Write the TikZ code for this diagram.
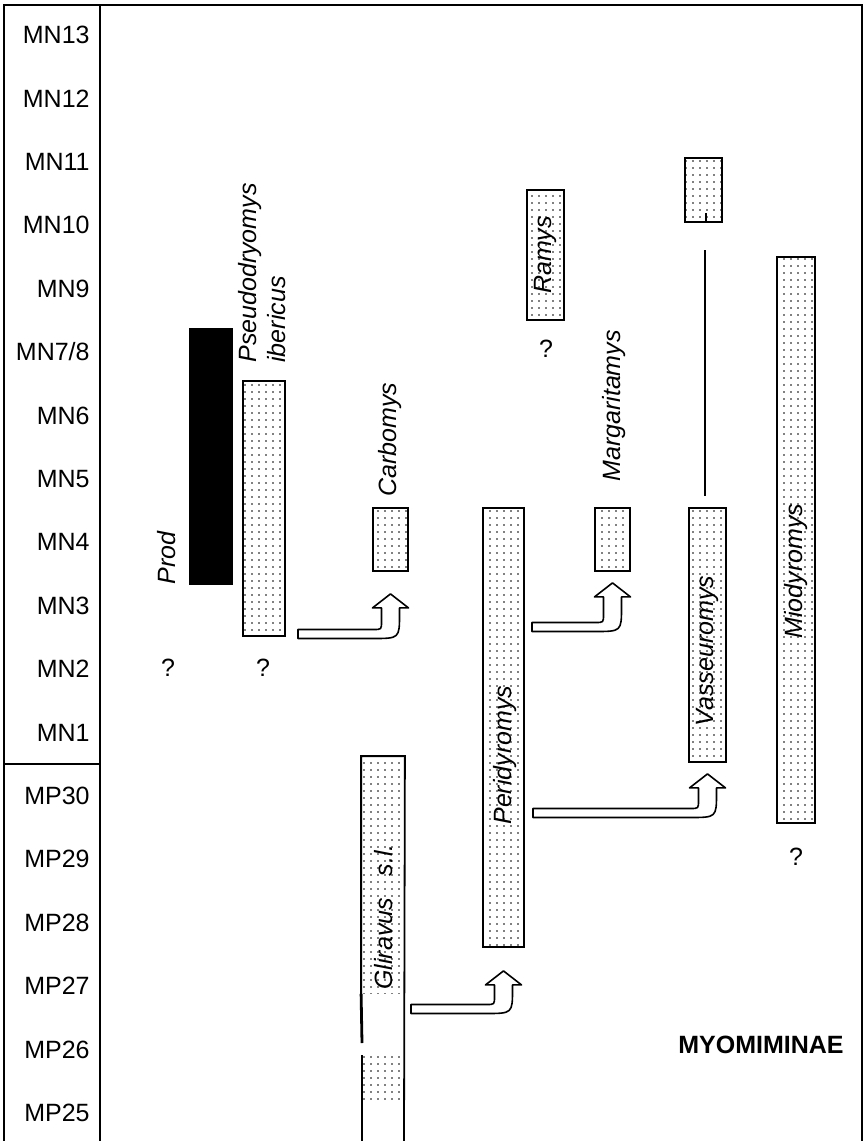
\documentclass[tikz,border=0pt]{standalone}
\usepackage{fontspec}
\setmainfont{Liberation Sans}
\usetikzlibrary{calc,fit,patterns.meta}

\newcommand\zfont{\fontsize{12.5}{14.5}\selectfont}

% hollow bent arrow from a start point (left end of shaft) to a tip
\newcommand\bentarrow[2]{%
  \draw[hollow] let \p1=(#1), \p2=(#2) in
    (\x1,\y1+2.25pt) -- (\x2-8.5pt,\y1+2.25pt)
    .. controls (\x2-4.5pt,\y1+2.25pt) .. (\x2-4.5pt,\y1+6.25pt)
    -- (\x2-4.5pt,\y2-7pt) -- (\x2-9pt,\y2-7pt) -- (\x2,\y2)
    -- (\x2+9pt,\y2-7pt) -- (\x2+4.5pt,\y2-7pt)
    -- (\x2+4.5pt,\y1+10pt)
    .. controls (\x2+4.5pt,\y1-2.25pt) .. (\x2-9pt,\y1-2.25pt)
    -- (\x1,\y1-2.25pt) -- cycle;}

\tikzset{
  frame/.style={line width=0.8pt},
  stipple/.style={pattern={Dots[distance=3.5pt,radius=0.4pt]}, pattern color=black},
  bar/.style={draw, line width=0.9pt, inner sep=0pt, stipple},
  solidbar/.style={fill=black, inner sep=0pt},
  taxon/.style={font=\zfont\itshape, rotate=90, inner sep=0pt},
  zone/.style={font=\zfont, anchor=east, inner sep=0pt},
  query/.style={font=\zfont, inner sep=0pt},
  hollow/.style={draw, line width=0.8pt, fill=white, line join=round},
}

\begin{document}
\begin{tikzpicture}[x=0.5pt,y=-0.5pt]
  \useasboundingbox (0,0) rectangle (863,1141);

  % frame and time scale
  \draw[frame] (4,1141) -- (4,5) -- (862,5) -- (862,1141);
  \draw[frame] (100,5) -- (100,1141);
  \draw[frame] (4,764) -- (100,764);
  \foreach \z [count=\i from 0] in {MN13,MN12,MN11,MN10,MN9,MN7/8,MN6,MN5,MN4,MN3,MN2,MN1,MP30,MP29,MP28,MP27,MP26,MP25}
    \node[zone] (z\i) at (90,35+63.4*\i) {\z};

  % ranges
  \node[solidbar, fit={(189,328) (233,585)}] (prod) {};
  \node[bar, fit={(243,381) (285,636)}] (pseudo) {};
  \node[bar, fit={(373,508) (408,571)}] (carb) {};
  \node[bar, draw=none, fit={(362,757) (404,993)}] (glir) {};
  \node[bar, fit={(483,508) (524,947)}] (perid) {};
  \node[bar, fit={(527,190) (564,320)}] (ramys) {};
  \node[bar, fit={(595,508) (630,571)}] (marg) {};
  \node[bar, fit={(685,158) (722,222)}] (vassup) {};
  \node[bar, fit={(689,508) (726,762)}] (vass) {};
  \node[bar, fit={(777,257) (815,823)}] (mio) {};

  % Gliravus, open below
  \path[stipple] (362,1055) rectangle (404,1100);
  \draw[line width=0.9pt] (glir.south west) -- (glir.north west) -- (glir.north east) -- (404,1141);
  \draw[line width=1.4pt] (glir.south west) -- (362,1043);
  \draw[line width=0.9pt] (362,1055) -- (362,1141);

  % Vasseuromys gap
  \coordinate (vline) at (705,250);
  \draw[line width=0.8pt] (vline) -- ($(vline |- vass.north)+(0,-11)$);
  \draw[line width=1.4pt] (706,213) -- (706,222);

  % names
  \node[taxon, anchor=west] (lprod) at (167,585) {Prod};
  \node[taxon, anchor=west, align=left] (lpseudo) at (262,363) {Pseudodryomys\\ibericus};
  \node[taxon, anchor=west] (lcarb) at (390,497) {Carbomys};
  \node[taxon, anchor=west] (lglir) at (384,990) {Gliravus\hspace{0.6em} s.l.};
  \node[taxon, anchor=west] (lperid) at (505,825) {Peridyromys};
  \node[taxon] (lramys) at (ramys) {Ramys};
  \node[taxon, anchor=west] (lmarg) at (614,482) {Margaritamys};
  \node[taxon] (lvass) at (707,651) {Vasseuromys};
  \node[taxon] (lmio) at (796,571) {Miodyromys};

  \node[query] (q1) at (168,668) {?};
  \node[query] (q2) at (263,668) {?};
  \node[query] (q3) at (546,349) {?};
  \node[query] (q4) at (796,857) {?};

  \node[font=\zfont\bfseries] (subfam) at (761,1045) {MYOMIMINAE};

  % derivations
  \coordinate (a1s) at (298,634);  \coordinate (a1t) at ($(carb.south)+(0,22)$);
  \coordinate (a2s) at (532,627);  \coordinate (a2t) at ($(marg.south)+(0,11)$);
  \coordinate (a3s) at (533,813);  \coordinate (a3t) at ($(vass.south)+(0,11)$);
  \coordinate (a4s) at (411,1009); \coordinate (a4t) at ($(perid.south)+(0,23)$);
  \bentarrow{a1s}{a1t}
  \bentarrow{a2s}{a2t}
  \bentarrow{a3s}{a3t}
  \bentarrow{a4s}{a4t}
\end{tikzpicture}
\end{document}
